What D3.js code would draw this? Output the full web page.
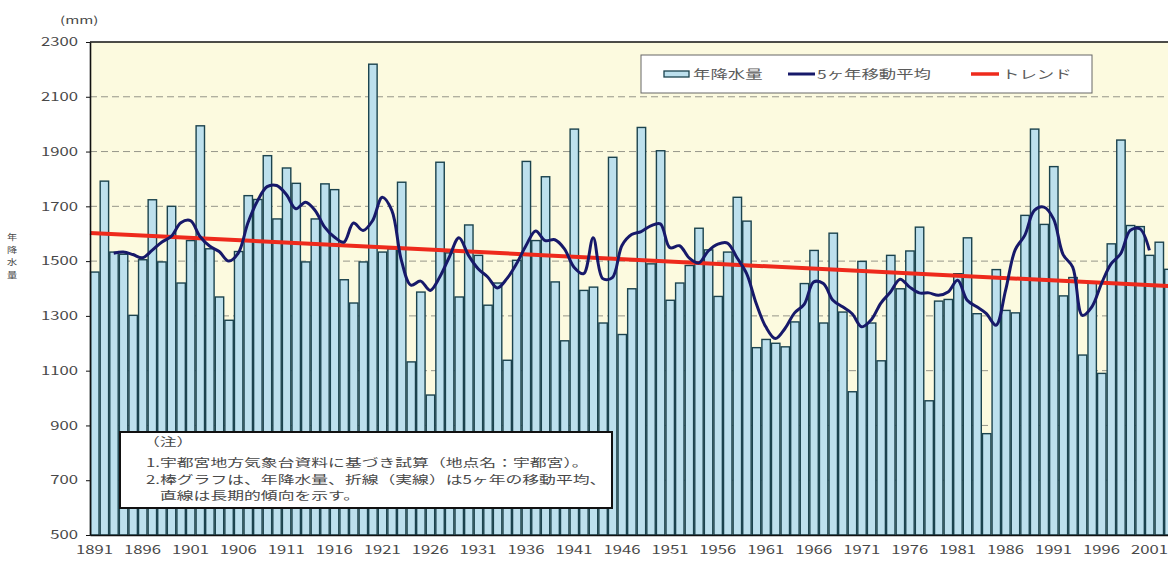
<!DOCTYPE html>
<html><head><meta charset="utf-8">
<script src="https://cdn.jsdelivr.net/npm/d3@7"></script>
<style>body{margin:0;background:#fff}svg{display:block}</style>
</head><body>
<svg id="c" width="1168" height="562"></svg>
<script>
// ---- data ----
const startYear = 1891;
const rainfall = [
 1460,1792,1533,1525,1302,1505,1724,1497,1700,1420,
 1575,1994,1545,1369,1284,1535,1739,1725,1885,1654,
 1840,1784,1497,1654,1782,1761,1432,1347,1497,2219,
 1533,1545,1788,1132,1387,1011,1861,1530,1369,1632,
 1521,1339,1420,1138,1503,1864,1575,1808,1424,1209,
 1982,1393,1405,1274,1879,1232,1399,1988,1490,1903,
 1357,1420,1484,1620,1541,1371,1533,1733,1646,1184,
 1214,1200,1187,1278,1418,1539,1274,1602,1314,1023,
 1499,1274,1136,1521,1399,1537,1624,990,1354,1360,
 1454,1585,1308,870,1469,1320,1311,1667,1982,1634,
 1845,1373,1440,1157,1420,1090,1563,1942,1630,1626,
 1521,1569,1470
];
const maStartYear = 1893;
const movingAvg = [
 1529,1533,1524,1512,1539,1569,1590,1640,1648,1590,
 1555,1535,1500,1530,1640,1720,1772,1776,1743,1691,
 1715,1685,1624,1588,1569,1639,1612,1648,1733,1685,
 1503,1412,1427,1393,1442,1515,1585,1521,1472,1442,
 1402,1436,1490,1557,1610,1575,1578,1545,1478,1454,
 1585,1436,1440,1557,1597,1608,1629,1636,1549,1556,
 1512,1493,1537,1562,1566,1512,1454,1345,1260,1217,
 1254,1311,1342,1424,1418,1357,1333,1308,1260,1286,
 1347,1387,1434,1405,1384,1384,1375,1387,1430,1357,
 1333,1308,1266,1393,1541,1594,1685,1697,1654,1524,
 1478,1302,1333,1418,1490,1527,1612,1618,1539
];
const trendEnds = [[1891, 1603], [2003, 1408]];
const yTicks = [500,700,900,1100,1300,1500,1700,1900,2100,2300];
const xTickYears = [1891,1896,1901,1906,1911,1916,1921,1926,1931,1936,1941,1946,1951,1956,1961,1966,1971,1976,1981,1986,1991,1996,2001];
const legendLabels = ["年降水量", "5ヶ年移動平均", "トレンド"];
const unitLabel = "(mm)";
const yTitleChars = ["年","降","水","量"];
const noteLines = [
 "（注）",
 "1.宇都宮地方気象台資料に基づき試算（地点名：宇都宮）。",
 "2.棒グラフは、年降水量、折線（実線）は5ヶ年の移動平均、",
 "直線は長期的傾向を示す。"
];

// ---- drawing ----
const FONT = "'Noto Sans CJK JP','Noto Sans',sans-serif";
const SX = 1.45;           // horizontal stretch seen in the picture
const TXT = "#484848";
const svg = d3.select("#c");
const years = rainfall.map((_, i) => startYear + i);
const plotL = 90, plotT = 42, plotB = 535, step = 9.585;
const plotR = plotL + step * years.length;

const x = d3.scaleBand().domain(years).range([plotL, plotR]).paddingInner(0.06).paddingOuter(0);
const y = d3.scaleLinear().domain([500, 2300]).range([plotB, plotT]);
const bw = x.bandwidth();
const cx = yr => x(yr) + bw / 2;

svg.append("rect").attr("x", plotL).attr("y", plotT).attr("width", plotR - plotL).attr("height", plotB - plotT)
  .attr("fill", "#fcfadf");

// gridlines
svg.append("g").selectAll("line").data(yTicks.filter(v => v > 500 && v < 2300)).join("line")
  .attr("x1", plotL).attr("x2", plotR).attr("y1", d => y(d)).attr("y2", d => y(d))
  .attr("stroke", "#8a8a80").attr("stroke-width", 0.9).attr("stroke-dasharray", "7,4");

// bars
svg.append("g").selectAll("rect").data(rainfall).join("rect")
  .attr("x", (d, i) => x(years[i]) + 0.6)
  .attr("width", bw - 0.6)
  .attr("y", d => y(d))
  .attr("height", d => plotB - y(d))
  .attr("fill", "#bde0ed")
  .attr("stroke", "#1b434e").attr("stroke-width", 1.4);

// trend line
svg.append("line")
  .attr("x1", x(trendEnds[0][0])).attr("y1", y(trendEnds[0][1]))
  .attr("x2", x(trendEnds[1][0]) + bw).attr("y2", y(trendEnds[1][1]))
  .attr("stroke", "#ee2a1c").attr("stroke-width", 4);

// moving average
const maData = movingAvg.map((v, i) => [maStartYear + i, v]);
svg.append("path").datum(maData)
  .attr("d", d3.line().x(d => cx(d[0])).y(d => y(d[1])).curve(d3.curveCatmullRom.alpha(0.5)))
  .attr("fill", "none").attr("stroke", "#17196a").attr("stroke-width", 3).attr("stroke-linejoin", "round");

// frame
svg.append("line").attr("x1", plotL).attr("x2", plotR).attr("y1", plotT).attr("y2", plotT).attr("stroke", "#111").attr("stroke-width", 1.6);

// y axis
const gy = svg.append("g").attr("transform", `translate(${plotL},0)`)
  .call(d3.axisLeft(y).tickValues(yTicks).tickSize(4).tickSizeOuter(0).tickFormat(d3.format("d")));
gy.select(".domain").attr("stroke", "#111").attr("stroke-width", 1.6);
gy.selectAll(".tick line").attr("stroke", "#111");
gy.selectAll(".tick text").attr("font-family", FONT).attr("font-size", 11.5).attr("fill", TXT)
  .attr("x", -12 / SX).attr("transform", `scale(${SX},1)`);

// x axis
const gx = svg.append("g").attr("transform", `translate(0,${plotB})`)
  .call(d3.axisBottom(x).tickValues(xTickYears).tickSize(0).tickSizeOuter(0));
gx.select(".domain").attr("stroke", "#111").attr("stroke-width", 1.6);
gx.selectAll(".tick text").attr("font-family", FONT).attr("font-size", 11.5).attr("fill", TXT)
  .attr("y", 11).attr("transform", `scale(${SX},1)`).attr("x", 0);

// unit label
svg.append("text").attr("transform", `translate(60,24) scale(${SX},1)`)
  .attr("font-family", FONT).attr("font-size", 10.5).attr("fill", TXT).text(unitLabel);

// y title (vertical)
svg.append("g").selectAll("text").data(yTitleChars).join("text")
  .attr("transform", (d, i) => `translate(12,${240 + i * 12.5}) scale(1.2,1)`)
  .attr("text-anchor", "middle").attr("font-family", FONT).attr("font-size", 8.5).attr("fill", TXT).text(d => d);

// legend
const lg = svg.append("g");
lg.append("rect").attr("x", 641).attr("y", 55).attr("width", 451).attr("height", 38)
  .attr("fill", "#fff").attr("stroke", "#666").attr("stroke-width", 1);
lg.append("rect").attr("x", 664).attr("y", 71).attr("width", 25).attr("height", 6)
  .attr("fill", "#bde0ed").attr("stroke", "#1b434e").attr("stroke-width", 1.3);
lg.append("line").attr("x1", 788).attr("x2", 815).attr("y1", 74).attr("y2", 74).attr("stroke", "#17196a").attr("stroke-width", 3);
lg.append("line").attr("x1", 971).attr("x2", 999).attr("y1", 74).attr("y2", 74).attr("stroke", "#ee2a1c").attr("stroke-width", 3.5);
const legX = [693, 817, 1002];
lg.selectAll("text.l").data(legendLabels).join("text").attr("class", "l")
  .attr("transform", (d, i) => `translate(${legX[i]},79) scale(${SX},1)`)
  .attr("font-family", FONT).attr("font-size", 12).attr("fill", "#5a5a5a").text(d => d);

// note box
const ng = svg.append("g");
ng.append("rect").attr("x", 120).attr("y", 432).attr("width", 492).attr("height", 76)
  .attr("fill", "#fff").attr("stroke", "#111").attr("stroke-width", 2);
const noteX = [143, 146, 146, 160], noteY = [446, 467, 484, 500];
ng.selectAll("text").data(noteLines).join("text")
  .attr("transform", (d, i) => `translate(${noteX[i]},${noteY[i]}) scale(${SX},1)`)
  .attr("font-family", FONT).attr("font-size", 11.6).attr("fill", TXT).text(d => d);
</script>
</body></html>
